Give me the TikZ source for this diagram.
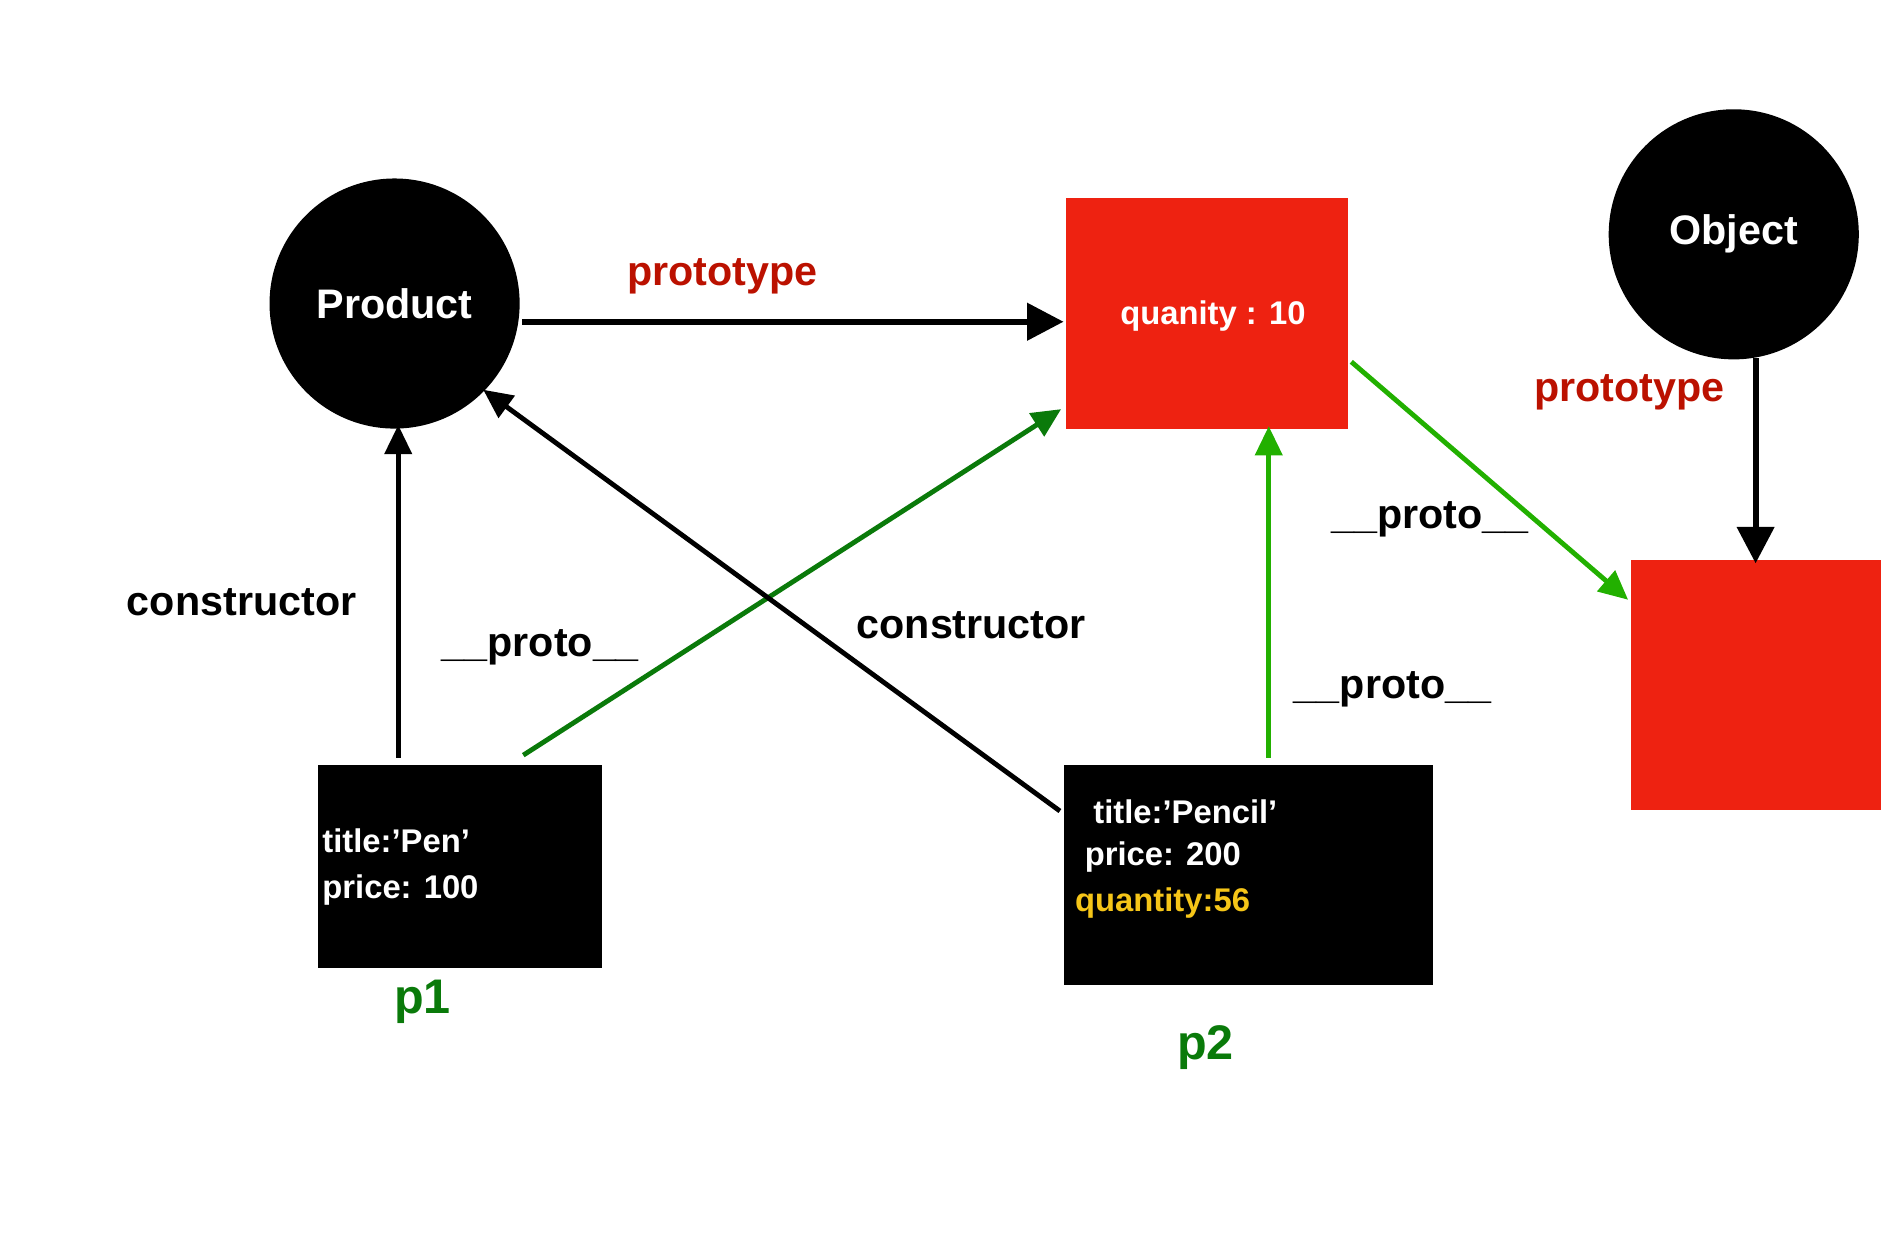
\documentclass[tikz,border=0pt]{standalone}
\usepackage{fontspec}
\setmainfont{Liberation Sans}
\usetikzlibrary{arrows.meta}
\definecolor{myred}{HTML}{EE2211}
\definecolor{lblred}{HTML}{BB1100}
\definecolor{dgreen}{HTML}{0A7A0A}
\definecolor{lgreen}{HTML}{22B000}
\definecolor{gold}{HTML}{F5C518}
\begin{document}
\begin{tikzpicture}[x=1pt,y=-1pt,
  lbl/.style={font=\fontsize{34}{40}\selectfont\bfseries},
  txt/.style={font=\fontsize{27}{38}\selectfont\bfseries,text=white,align=left},
  arr/.style={line width=5pt,-{Triangle[length=30pt,width=30pt]}},
  arrg/.style={line width=4pt,-{Triangle[length=24pt,width=22pt]}}]
\useasboundingbox (0,0) rectangle (1560,1022);
\node[circle,fill=black,minimum size=206pt,inner sep=0,txt,font=\fontsize{34}{40}\selectfont\bfseries] (prod) at (325,250) {Product};
\node[circle,fill=black,minimum size=206pt,inner sep=0,txt,font=\fontsize{34}{40}\selectfont\bfseries] (obj) at (1428,193) {Object};
\fill[myred] (878,163) rectangle (1110,353);
\node[txt,anchor=center] (q) at (999,260) {quanity : 10};
\fill[myred] (1343,461) rectangle (1549,667);
\fill[black] (262,630) rectangle (496,797);
\node[txt,anchor=west] (p1t) at (262,714) {title:’Pen’\\price: 100};
\fill[black] (876,630) rectangle (1180,811);
\node[txt,anchor=west] (p2a) at (897,669) {title:’Pencil’};
\node[txt,anchor=west] (p2b) at (890,706) {price: 200};
\node[txt,anchor=west,text=gold] (p2c) at (882,744) {quantity:56};
\node[lbl,text=lblred] (l1) at (595,228) {prototype};
\node[lbl,text=lblred] (l2) at (1342,323) {prototype};
\node[lbl] (l3) at (199,496) {constructor};
\node[lbl] (l4) at (445,533) {\_\_proto\_\_};
\node[lbl] (l5) at (800,515) {constructor};
\node[lbl] (l6) at (1178,428) {\_\_proto\_\_};
\node[lbl] (l7) at (1147,568) {\_\_proto\_\_};
\node[lbl,text=dgreen,font=\fontsize{40}{46}\selectfont\bfseries] (n1) at (348,825) {p1};
\node[lbl,text=dgreen,font=\fontsize{40}{46}\selectfont\bfseries] (n2) at (993,863) {p2};
\coordinate (a1) at (430,265); \coordinate (a2) at (876,265);
\coordinate (b1) at (328,624); \coordinate (b2) at (328,350);
\coordinate (c1) at (431,622); \coordinate (c2) at (874,337);
\coordinate (d1) at (873,668); \coordinate (d2) at (398,321);
\coordinate (e1) at (1045,624); \coordinate (e2) at (1045,351);
\coordinate (f1) at (1113,298); \coordinate (f2) at (1341,494);
\coordinate (g1) at (1446,295); \coordinate (g2) at (1446,464);
\draw[arr] (a1) -- (a2);
\draw[arrg] (b1) -- (b2);
\draw[arrg,dgreen] (c1) -- (c2);
\draw[arrg] (d1) -- (d2);
\draw[arrg,lgreen] (e1) -- (e2);
\draw[arrg,lgreen] (f1) -- (f2);
\draw[arr] (g1) -- (g2);
\end{tikzpicture}
\end{document}
